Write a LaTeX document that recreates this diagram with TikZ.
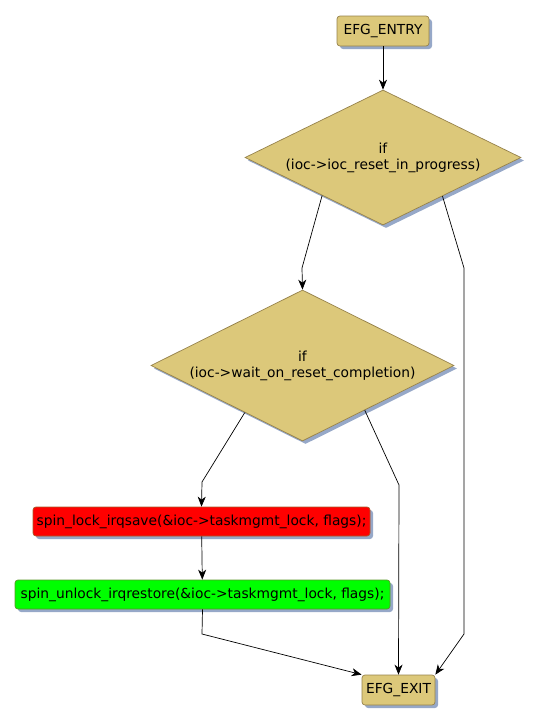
\documentclass[tikz,border=0pt]{standalone}
\usepackage{fontspec}
\setmainfont{DejaVu Sans}
\usetikzlibrary{shapes.geometric,shadows,arrows.meta,calc}
\definecolor{tan}{RGB}{220,200,122}
\definecolor{tanline}{RGB}{150,130,75}
\definecolor{shadowblue}{RGB}{150,168,200}
\definecolor{redfill}{RGB}{255,0,0}
\definecolor{greenfill}{RGB}{0,255,0}
\begin{document}
\begin{tikzpicture}[x=1pt,y=-1pt,
  every node/.style={font=\fontsize{13.8}{16}\selectfont},
  shad/.style={drop shadow={shadow xshift=3pt,shadow yshift=-3pt,fill=shadowblue,opacity=1}},
  stepbox/.style={shape=rectangle,rounded corners=3pt,draw=tanline,line width=0.7pt,
    minimum height=29pt,inner sep=0pt,shad},
  decision/.style={shape=diamond,draw=tanline,line width=0.7pt,fill=tan,inner sep=0pt,
    shape aspect=2,align=center,shad},
  arr/.style={-{Stealth[length=10pt,width=8pt,inset=3pt]},line width=0.7pt,black}
]
\useasboundingbox (0,0) rectangle (540,723);
\node[stepbox,fill=tan,minimum width=92pt,minimum height=30pt] (entry) at (383,31) {EFG\_ENTRY};
\node[decision,minimum width=276pt,minimum height=135pt] (d1) at (383,157.5) {if\\(ioc->ioc\_reset\_in\_progress)};
\node[decision,minimum width=303pt,minimum height=151pt] (d2) at (302.5,365.5) {if\\(ioc->wait\_on\_reset\_completion)};
\node[stepbox,fill=redfill,draw={rgb,255:red,170;green,90;blue,40},minimum width=337pt] (lock) at (201.5,521.5) {spin\_lock\_irqsave(\&ioc->taskmgmt\_lock, flags);};
\node[stepbox,fill=greenfill,draw={rgb,255:red,90;green,150;blue,40},minimum width=375pt] (unlock) at (202.5,594.5) {spin\_unlock\_irqrestore(\&ioc->taskmgmt\_lock, flags);};
\node[stepbox,fill=tan,minimum width=73pt,minimum height=30pt] (exit) at (398.5,690) {EFG\_EXIT};

\coordinate (d1a) at ($(d1.south)!0.44!(d1.west)$);
\coordinate (d1b) at ($(d1.south)!0.43!(d1.east)$);
\coordinate (d2a) at ($(d2.south)!0.38!(d2.west)$);
\coordinate (d2b) at ($(d2.south)!0.41!(d2.east)$);
\coordinate (k1) at (302,268);
\coordinate (k2) at (464,268);
\coordinate (k3) at (464,634);
\coordinate (k4) at (202,482);
\coordinate (k5) at (399,485);
\coordinate (k6) at (202,634);

\draw[arr] (entry) -- (d1.north);
\draw[arr] (d1a) -- (k1) -- (d2.north);
\draw[arr] (d1b) -- (k2) -- (k3) -- (exit.north east);
\draw[arr] (d2a) -- (k4) -- (lock.north);
\draw[arr] (d2b) -- (k5) -- (exit.north);
\draw[arr] (lock) -- (unlock);
\draw[arr] (unlock.south) -- (k6) -- (exit.north west);
\end{tikzpicture}
\end{document}
